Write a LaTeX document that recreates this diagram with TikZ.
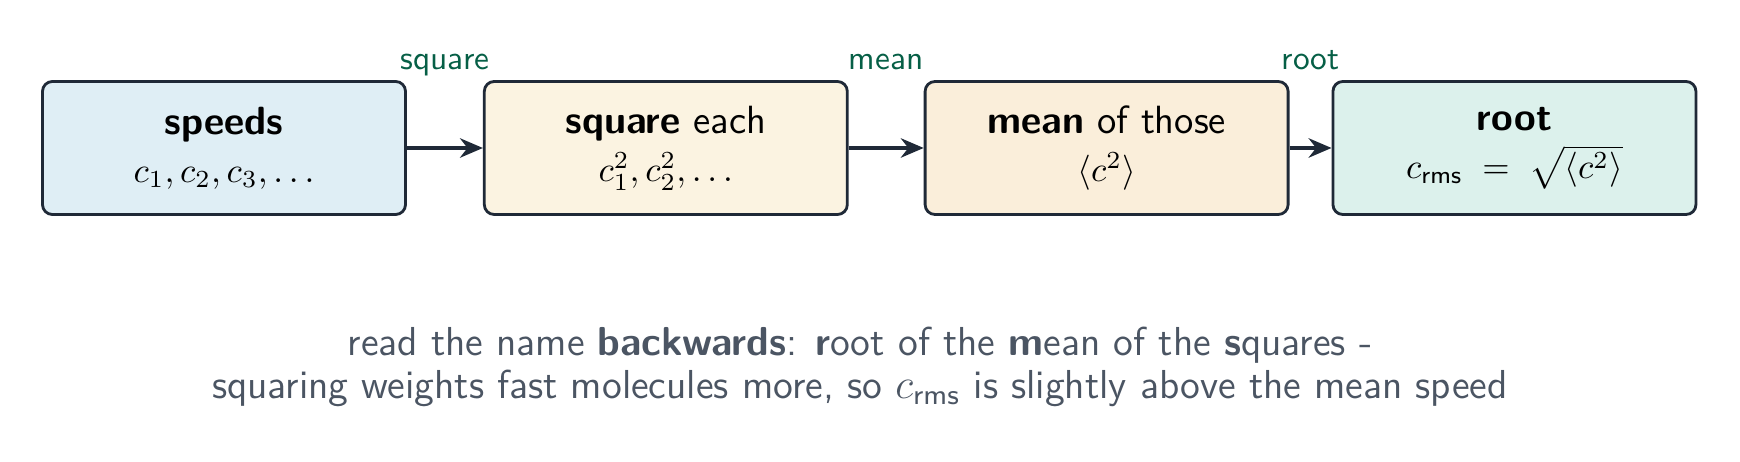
\documentclass[tikz,border=0pt]{standalone}
\usepackage{amsmath}
\usepackage{tikz}
\usetikzlibrary{arrows.meta,
								positioning}
\definecolor{edgecol}{HTML}{1F2937}
\definecolor{labelgreen}{HTML}{065F46}
\definecolor{notegray}{HTML}{4B5563}
\definecolor{speedblue}{HTML}{DFEEF5}
\definecolor{squarecream}{HTML}{FBF3E1}
\definecolor{meanpeach}{HTML}{FAEEDA}
\definecolor{rootmint}{HTML}{DCF1EC}
\newcommand{\stagetitle}{\fontsize{11.2}{13.7}\selectfont}

\begin{document}
\begin{tikzpicture}[
  stage/.style={draw=edgecol, line width=0.8pt, rounded corners=2.8pt, minimum width=3.63cm, minimum height=1.33cm, inner sep=0pt, align=center, font=\sffamily\fontsize{10}{13.7}\selectfont},
  flow/.style={draw=edgecol, line width=1.3pt, -{Stealth[length=6.5pt,width=5.5pt]}},
  steplabel/.style={font=\sffamily\fontsize{9.5}{11}\selectfont, text=labelgreen, anchor=base, inner sep=0pt, yshift=0.78cm}]
  \useasboundingbox (0,0) rectangle (17.4,4.62);

  \node[stage, fill=speedblue] (speeds) at (2.24,3.14) {{\stagetitle\bfseries speeds}\\ $c_1, c_2, c_3, \ldots$};
  \node[stage, fill=squarecream, right=0.76cm of speeds] (squares) {{\stagetitle\textbf{square} each}\\ $c_1^2, c_2^2, \ldots$};
  \node[stage, fill=meanpeach, right=0.75cm of squares] (mean) {{\stagetitle\textbf{mean} of those}\\ $\langle c^2\rangle$};
  \node[stage, fill=rootmint, right=0.42cm of mean] (root) {{\stagetitle\bfseries root}\\ $c_{\textsf{rms}} \;=\; \sqrt{\langle c^2\rangle}$};

  \draw[flow] (speeds) -- node[steplabel] {square} (squares);
  \draw[flow] (squares) -- node[steplabel] {mean} (mean);
  \draw[flow] (mean) -- node[steplabel] {root} (root);

  % reading hint under the chain
  \node[align=center, text=notegray, font=\sffamily\fontsize{11.5}{12}\selectfont] (note) at (8.6,0.95) {read the name \textbf{backwards}: \textbf{r}oot of the \textbf{m}ean of the \textbf{s}quares -\\ squaring weights fast molecules more, so $c_{\textsf{rms}}$ is slightly above the mean speed};
\end{tikzpicture}
\end{document}
